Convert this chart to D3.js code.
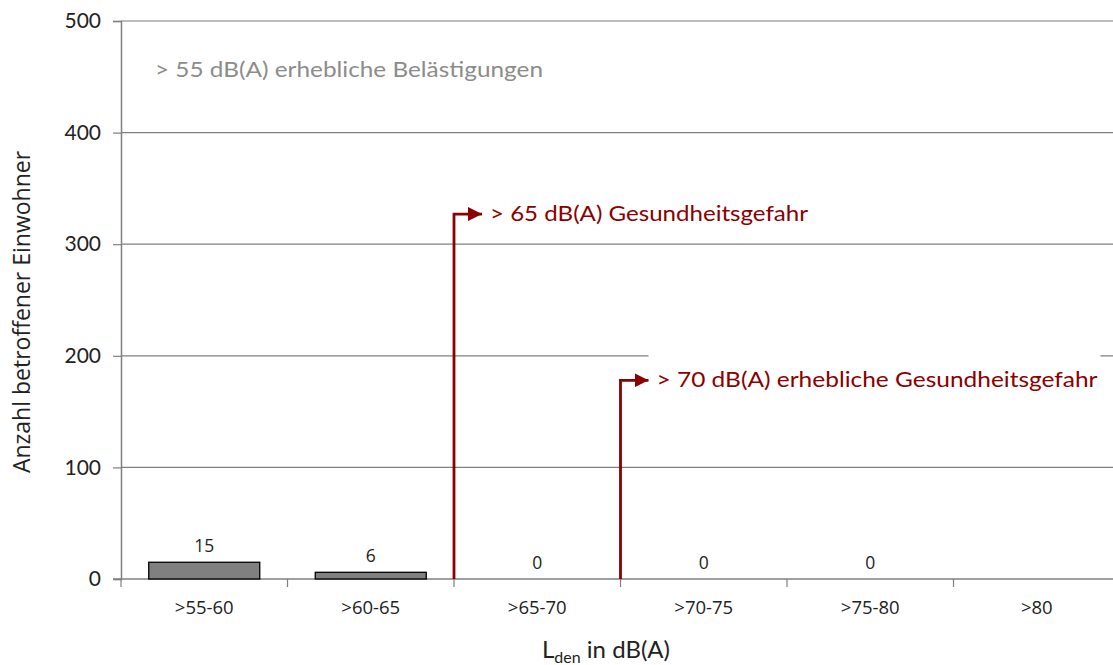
<!DOCTYPE html>
<html><head><meta charset="utf-8">
<script src="https://cdn.jsdelivr.net/npm/d3@7"></script>
<style>body{margin:0;background:#fff}svg{display:block}</style>
</head><body><svg id="c" width="1113" height="665"></svg>
<script>
const categories = [">55-60", ">60-65", ">65-70", ">70-75", ">75-80", ">80"];
const values = [15, 6, 0, 0, 0, null];
const yTicks = [0, 100, 200, 300, 400, 500];
const thresholdLabels = ["> 65 dB(A) Gesundheitsgefahr", "> 70 dB(A) erhebliche Gesundheitsgefahr"];
const thresholdCategories = [">65-70", ">70-75"];
const thresholdLevels = [327, 178];
const topNote = "> 55 dB(A) erhebliche Belästigungen";

const svg = d3.select("#c");
const L = 121, R = 1120, T = 21, B = 579;
const x = d3.scaleBand().domain(categories).range([L, R]);
const y = d3.scaleLinear().domain([0, 500]).range([B, T]);
const red = "#8b0000", grid = "#7f7f7f";
const font = "Lato, 'Open Sans', sans-serif";

// gridlines
svg.append("g").selectAll("line").data(yTicks.filter(d => d > 0)).join("line")
  .attr("x1", L).attr("x2", 1113).attr("y1", d => y(d)).attr("y2", d => y(d))
  .attr("stroke", grid).attr("stroke-width", 1.2);

// y axis
const ya = svg.append("g").attr("transform", `translate(${L},0)`)
  .call(d3.axisLeft(y).tickValues(yTicks).tickSize(8).tickPadding(12));
ya.select(".domain").attr("stroke", grid).attr("stroke-width", 1.5);
ya.selectAll(".tick line").attr("stroke", grid).attr("stroke-width", 1.2);
ya.selectAll("text").attr("font-family", font).attr("font-size", 21).attr("fill", "#222");

// x axis
const xa = svg.append("g").attr("transform", `translate(0,${B})`)
  .call(d3.axisBottom(x).tickSize(0).tickPadding(22));
xa.select(".domain").remove();
xa.selectAll("text").attr("font-family", "'Open Sans', sans-serif").attr("font-size", 18.5).attr("fill", "#222");
svg.append("line").attr("x1", L - 8).attr("x2", 1113).attr("y1", B).attr("y2", B)
  .attr("stroke", grid).attr("stroke-width", 1.5);
svg.append("g").selectAll("line").data(categories).join("line")
  .attr("x1", d => x(d)).attr("x2", d => x(d)).attr("y1", B).attr("y2", B + 8)
  .attr("stroke", grid).attr("stroke-width", 1.2);

// bars
const bw = x.bandwidth();
const barData = categories.map((c, i) => ({c, v: values[i]})).filter(d => d.v !== null);
svg.append("g").selectAll("rect").data(barData.filter(d => d.v > 0)).join("rect")
  .attr("x", d => x(d.c) + bw / 6).attr("width", bw * 2 / 3)
  .attr("y", d => y(d.v)).attr("height", d => B - y(d.v))
  .attr("fill", "#808080").attr("stroke", "#000").attr("stroke-width", 1.3);
svg.append("g").selectAll("text").data(barData).join("text")
  .attr("x", d => x(d.c) + bw / 2).attr("y", d => y(d.v) - 10)
  .attr("text-anchor", "middle").attr("font-family", "'Open Sans', sans-serif")
  .attr("font-size", 17.5).attr("fill", "#222").text(d => d.v);

// threshold arrows
const defs = svg.append("defs");
defs.append("marker").attr("id", "ah").attr("viewBox", "0 0 10 10").attr("refX", 10).attr("refY", 5)
  .attr("markerWidth", 5).attr("markerHeight", 5).attr("markerUnits", "strokeWidth").attr("orient", "auto")
  .append("path").attr("d", "M0,0L10,5L0,10Z").attr("fill", red);

thresholdCategories.forEach((c, i) => {
  const xx = x(c), yy = y(thresholdLevels[i]);
  const tw = i === 0 ? 318 : 441;
  if (i === 1) {
    svg.append("rect").attr("x", xx + 28).attr("y", yy - 28).attr("width", 452).attr("height", 42).attr("fill", "#fff");
  }
  svg.append("path").attr("d", `M${xx},${B}V${yy}H${xx + 28}`)
    .attr("fill", "none").attr("stroke", red).attr("stroke-width", 2.8).attr("marker-end", "url(#ah)");
  svg.append("text").attr("x", xx + 36).attr("y", yy + 7)
    .attr("font-family", font).attr("font-size", 22).attr("fill", red)
    .attr("textLength", tw).attr("lengthAdjust", "spacingAndGlyphs")
    .text(thresholdLabels[i]);
});

// top note
svg.append("text").attr("x", 155).attr("y", 77).attr("font-family", font).attr("font-size", 22)
  .attr("fill", "#8c8c8c").attr("textLength", 388).attr("lengthAdjust", "spacingAndGlyphs").text(topNote);

// axis titles
svg.append("text").attr("transform", `translate(30,${(T + B) / 2 + 12}) rotate(-90)`)
  .attr("text-anchor", "middle").attr("font-family", "'Open Sans', sans-serif").attr("font-size", 23)
  .attr("fill", "#222").text("Anzahl betroffener Einwohner");
const xt = svg.append("text").attr("x", 606).attr("y", 658).attr("text-anchor", "middle")
  .attr("font-family", font).attr("font-size", 24).attr("fill", "#222");
xt.append("tspan").text("L");
xt.append("tspan").attr("font-size", 16).attr("dy", 5).text("den");
xt.append("tspan").attr("dy", -5).text(" in dB(A)");
</script></body></html>
